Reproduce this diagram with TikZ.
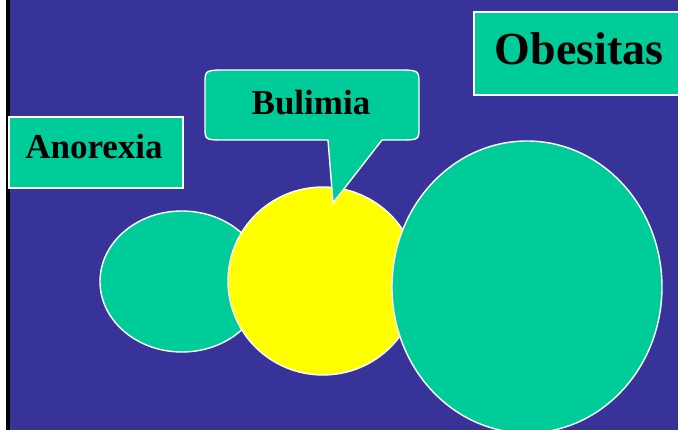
\documentclass[tikz,border=0pt]{standalone}
\usepackage{fontspec}
\setmainfont{Liberation Serif}
\definecolor{bgblue}{HTML}{383399}
\definecolor{mint}{HTML}{00CC99}
\definecolor{sun}{HTML}{FFFF00}
\tikzset{
  shapeline/.style={draw=white, line width=1.4pt},
  greenfill/.style={shapeline, fill=mint},
  label/.style={inner sep=0pt, anchor=base, font=\bfseries\fontsize{35}{40}\selectfont, text=black},
  biglabel/.style={label, font=\bfseries\fontsize{46}{52}\selectfont}
}
\begin{document}
\begin{tikzpicture}[x=1pt,y=-1pt]
\useasboundingbox (0,0) rectangle (678,430);
\clip (0,0) rectangle (678,430);
% background
\fill[white] (0,0) rectangle (678,430);
\fill[black] (6,0) rectangle (10,430);
\fill[bgblue] (10,0) rectangle (678,430);
% circles
\path[greenfill] (182,281.5) ellipse[x radius=82, y radius=70.5];
\path[shapeline, fill=sun] (323,281) ellipse[x radius=95, y radius=94];
\path[greenfill] (527,287) ellipse[x radius=135, y radius=146];
% Anorexia box
\path[greenfill] (9,117) rectangle (183,188);
\node[label] (anorexia) at (94,159) {Anorexia};
% Obesitas box
\path[greenfill] (474,12) rectangle (690,95);
\node[biglabel] (obesitas) at (579,65) {Obesitas};
% Bulimia callout
\path[greenfill] (328,140) -- (225,140) .. controls (205,140) .. (205,127)
  -- (205,84) .. controls (205,70) .. (228,70) -- (396,70)
  .. controls (419,70) .. (419,84) -- (419,127)
  .. controls (419,140) .. (399,140) -- (382,140) -- (333,203) -- cycle;
\node[label] (bulimia) at (311,115) {Bulimia};
\end{tikzpicture}
\end{document}
